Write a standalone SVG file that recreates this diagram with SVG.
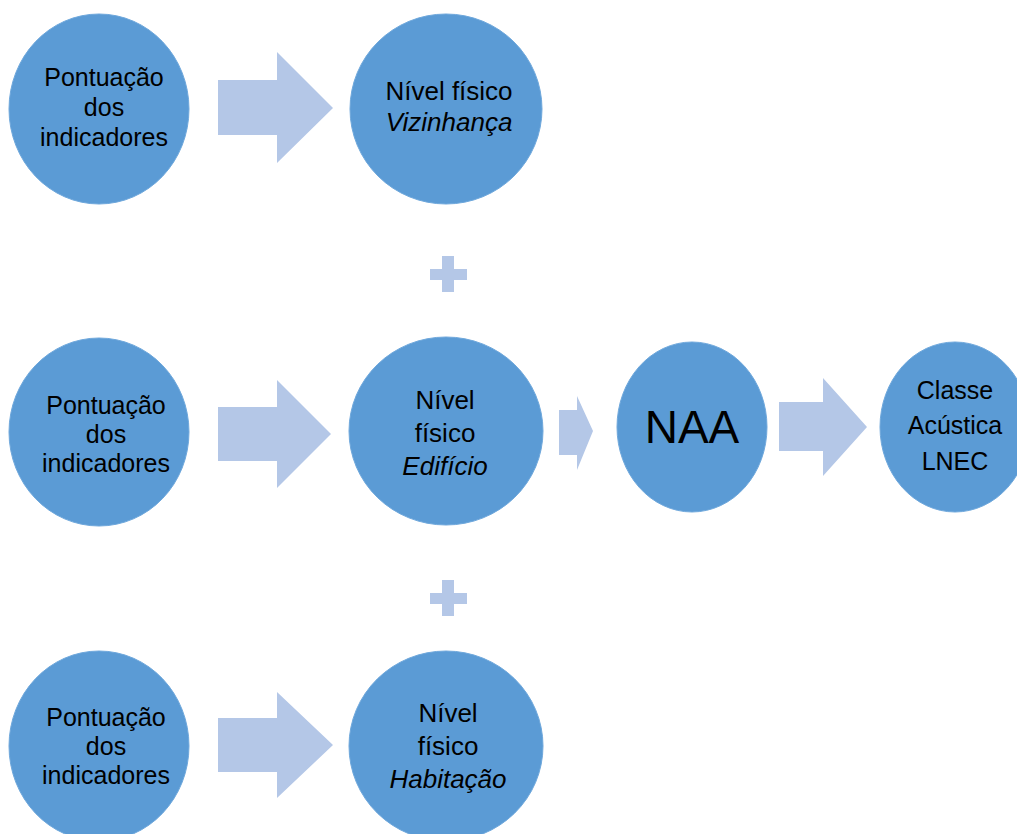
<svg xmlns="http://www.w3.org/2000/svg" width="1017" height="834" viewBox="0 0 1017 834">
<style>
.c{fill:#5B9BD5;stroke:#6FA8DC;stroke-width:1}
.a{fill:#B4C7E7}
.t{font-family:"Liberation Sans",Arial,sans-serif;font-size:25px;fill:#000;text-anchor:middle}
.b{font-size:26px}
.i{font-style:italic}
</style>
<rect width="1017" height="834" fill="#fff"/>
<g id="connectors">
<polygon class="a" points="218,80 277,80 277,52 333,108 277,163 277,135 218,135"/>
<polygon class="a" points="218,407 277,407 277,380 331,434 277,488 277,461 218,461"/>
<polygon class="a" points="218,718 277,718 277,692 333,745 277,798 277,772 218,772"/>
<polygon class="a" points="559,410 577,410 577,396 593,431 577,470 577,455 559,455"/>
<polygon class="a" points="779,402 823,402 823,378 867,427 823,476 823,451 779,451"/>
<polygon class="a" points="430,269 442,269 442,256 454,256 454,269 467,269 467,280 454,280 454,292 442,292 442,280 430,280"/>
<polygon class="a" points="430,593 442,593 442,580 454,580 454,593 467,593 467,604 454,604 454,616 442,616 442,604 430,604"/>
</g>
<g id="n1"><ellipse class="c" cx="99" cy="109" rx="90" ry="95"/>
<text class="t"><tspan x="104" y="86">Pontuação</tspan><tspan x="104" y="116">dos</tspan><tspan x="104" y="146">indicadores</tspan></text></g>
<g id="n2"><ellipse class="c" cx="446" cy="109" rx="96" ry="95"/>
<text class="t b"><tspan x="449" y="100">Nível físico</tspan><tspan x="449" y="131" class="i">Vizinhança</tspan></text></g>
<g id="n3"><ellipse class="c" cx="99" cy="432" rx="90" ry="94"/>
<text class="t"><tspan x="106" y="414">Pontuação</tspan><tspan x="106" y="443">dos</tspan><tspan x="106" y="472">indicadores</tspan></text></g>
<g id="n4"><ellipse class="c" cx="446" cy="431" rx="97" ry="94"/>
<text class="t b"><tspan x="445" y="409">Nível</tspan><tspan x="445" y="442">físico</tspan><tspan x="445" y="475" class="i">Edifício</tspan></text></g>
<g id="n5"><ellipse class="c" cx="692" cy="427" rx="75" ry="85"/>
<text class="t" style="font-size:46px" x="692" y="443">NAA</text></g>
<g id="n6"><ellipse class="c" cx="955" cy="427" rx="75" ry="85"/>
<text class="t"><tspan x="955" y="399">Classe</tspan><tspan x="955" y="434">Acústica</tspan><tspan x="955" y="470">LNEC</tspan></text></g>
<g id="n7"><ellipse class="c" cx="99" cy="746" rx="90" ry="95"/>
<text class="t"><tspan x="106" y="726">Pontuação</tspan><tspan x="106" y="755">dos</tspan><tspan x="106" y="784">indicadores</tspan></text></g>
<g id="n8"><ellipse class="c" cx="446" cy="746" rx="97" ry="95"/>
<text class="t b"><tspan x="448" y="722">Nível</tspan><tspan x="448" y="755">físico</tspan><tspan x="448" y="788" class="i">Habitação</tspan></text></g>
</svg>
